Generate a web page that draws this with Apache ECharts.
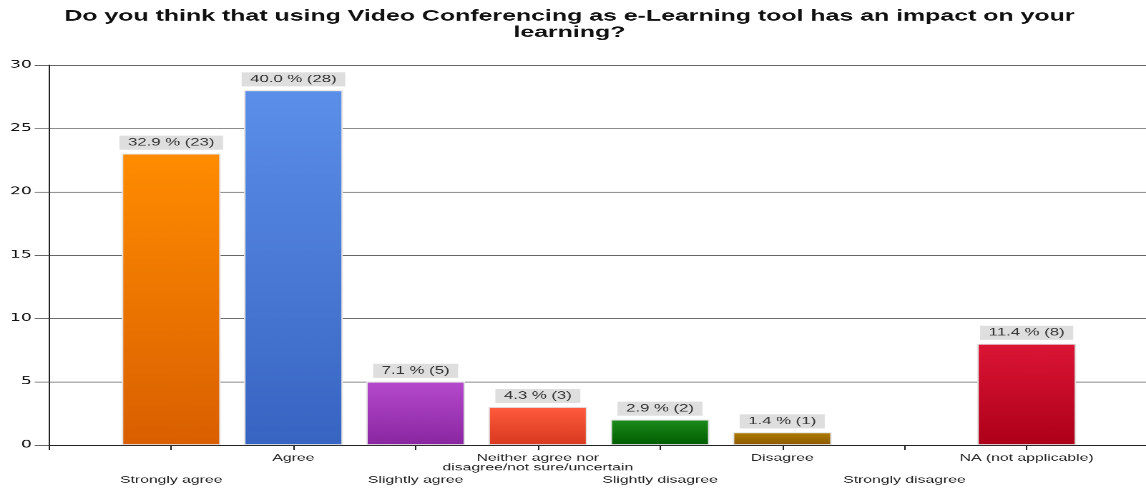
<!DOCTYPE html>
<html>
<head>
<meta charset="utf-8">
<script src="https://cdn.jsdelivr.net/npm/echarts@6/dist/echarts.min.js"></script>
<style>
  html, body { margin: 0; padding: 0; background: #fff; overflow: hidden; }
  #stage { width: 1146px; height: 488px; overflow: hidden; position: relative; }
  /* the chart is laid out at 806x555 and stretched into the 1146x488 frame;
     the last few pixels on the right fall outside the frame */
  #chart { width: 806px; height: 555px; position: absolute; left: 0; top: 0;
           transform-origin: 0 0; transform: scale(1.43071, 0.87928); }
</style>
</head>
<body>
<div id="stage"><div id="chart"></div></div>
<script>
// Survey answers, their counts and shares
const categories = [
  'Strongly agree',
  'Agree',
  'Slightly agree',
  'Neither agree nor\ndisagree/not sure/uncertain',
  'Slightly disagree',
  'Disagree',
  'Strongly disagree',
  'NA (not applicable)'
];
const counts   = [23, 28, 5, 3, 2, 1, 0, 8];
const percents = [32.9, 40.0, 7.1, 4.3, 2.9, 1.4, 0.0, 11.4];
const yTicks   = [0, 5, 10, 15, 20, 25, 30];

// top / bottom colours of each bar's gradient
const barTop    = ['#ff8c00', '#5b8fe9', '#b54acd', '#ff5b3d', '#1c8c1c', '#b07c00', '#777777', '#dc1535'];
const barBottom = ['#d95f00', '#3864c2', '#8a26a0', '#d8391f', '#005c00', '#8c5a00', '#555555', '#ad0019'];

const chart = echarts.init(document.getElementById('chart'), null, { devicePixelRatio: 2 });

// empty slots at both ends so each answer sits on its own tick
const axisCats = [''].concat(categories, ['']);

const seriesData = ['-'].concat(counts.map((c, k) => ({
  value: c,
  itemStyle: {
    color: new echarts.graphic.LinearGradient(0, 0, 0, 1, [
      { offset: 0, color: barTop[k] },
      { offset: 1, color: barBottom[k] }
    ]),
    borderWidth: c > 0 ? 1 : 0
  },
  label: { show: c > 0 },
  pct: percents[k]
})), ['-']);

const labelFont = '"Liberation Sans", Arial, sans-serif';

chart.setOption({
  animation: false,
  backgroundColor: '#ffffff',
  title: {
    text: 'Do you think that using Video Conferencing as e-Learning tool has an impact on your\nlearning?',
    left: 398,
    textAlign: 'center',
    top: 9.5,
    padding: 0,
    textStyle: {
      fontFamily: labelFont,
      fontWeight: 'bold',
      fontSize: 17.4,
      lineHeight: 18.5,
      color: '#111'
    }
  },
  grid: { left: 34.25, right: 0, top: 73.9, bottom: 48.9, containLabel: false },
  xAxis: {
    type: 'category',
    data: axisCats,
    boundaryGap: false,
    axisLine: { lineStyle: { color: '#222', width: 1 } },
    axisTick: { show: true, alignWithLabel: true, length: 5.5, lineStyle: { color: '#222' } },
    axisLabel: {
      interval: 0,
      hideOverlap: false,
      margin: 9,
      fontFamily: labelFont,
      fontSize: 11,
      color: '#222',
      formatter: function (value, idx) {
        if (value === '') return '';
        const k = idx - 1;
        const body = value.split('\n').map(s => '{t|' + s + '}').join('\n');
        return k % 2 === 0 ? '{gap| }\n' + body : body;
      },
      rich: {
        t: { fontFamily: labelFont, fontSize: 11, lineHeight: 11.4, color: '#222' },
        gap: { fontSize: 11, lineHeight: 25 }
      }
    },
    splitLine: { show: false }
  },
  yAxis: {
    type: 'value',
    min: yTicks[0],
    max: yTicks[yTicks.length - 1],
    interval: yTicks[1] - yTicks[0],
    axisLine: { show: true, lineStyle: { color: '#222', width: 1 } },
    axisTick: { show: true, length: 10, lineStyle: { color: '#666' } },
    axisLabel: {
      margin: 12,
      fontFamily: '"DejaVu Sans", sans-serif',
      fontSize: 12,
      color: '#111'
    },
    splitLine: { show: true, lineStyle: { color: '#666', width: 1 } }
  },
  series: [{
    type: 'bar',
    data: seriesData,
    barWidth: 69,
    itemStyle: { borderColor: '#e2e2e2' },
    label: {
      show: true,
      position: 'top',
      distance: 4.5,
      fontFamily: labelFont,
      fontSize: 11.7,
      lineHeight: 12,
      color: '#333',
      backgroundColor: '#dedede',
      padding: [2, 6],
      formatter: function (p) {
        return p.data.pct.toFixed(1) + ' % (' + p.data.value + ')';
      }
    }
  }]
});
</script>
</body>
</html>
